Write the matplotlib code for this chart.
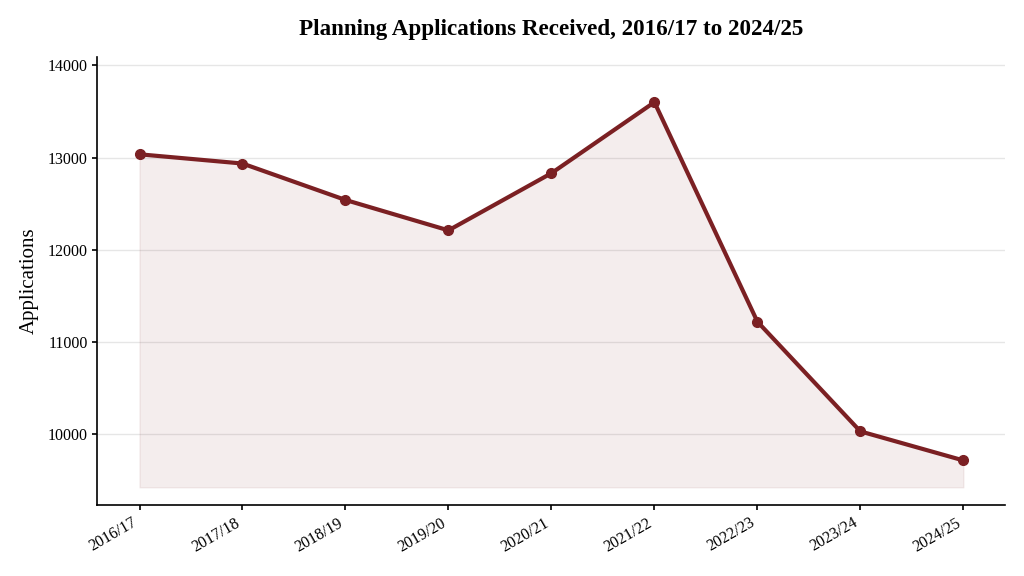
import matplotlib.pyplot as plt

years = ['2016/17', '2017/18', '2018/19', '2019/20', '2020/21',
         '2021/22', '2022/23', '2023/24', '2024/25']
applications = [13035, 12935, 12540, 12210, 12830, 13600, 11220, 10030, 9715]

plt.rcParams['font.family'] = ['Liberation Serif', 'DejaVu Serif']

line_color = '#7b2023'

fig, ax = plt.subplots(figsize=(10.24, 5.76), dpi=100)
fig.subplots_adjust(left=0.095, right=0.981, top=0.901, bottom=0.123)

x = list(range(len(years)))
base = min(applications) * 0.97
ax.fill_between(x, applications, base, color=line_color, alpha=0.08)
ax.plot(x, applications, color=line_color, lw=3, marker='o', ms=7)

ax.set_xlim(-0.41, 8.4)
ax.set_ylim(9230, 14090)
ax.set_xticks(x)
ax.set_xticklabels(years, rotation=30, ha='right')
ax.tick_params(axis='both', width=1.2, labelsize=11.5)
ax.set_ylabel('Applications', fontsize=15, labelpad=6)
ax.set_title('Planning Applications Received, 2016/17 to 2024/25',
             fontsize=16.6, fontweight='bold', pad=16)

ax.grid(axis='y', color='#e6e6e6', lw=1)
ax.set_axisbelow(True)
for s in ['top', 'right']:
    ax.spines[s].set_visible(False)
for s in ['left', 'bottom']:
    ax.spines[s].set_linewidth(1.2)

plt.savefig('out.png', dpi=100)
